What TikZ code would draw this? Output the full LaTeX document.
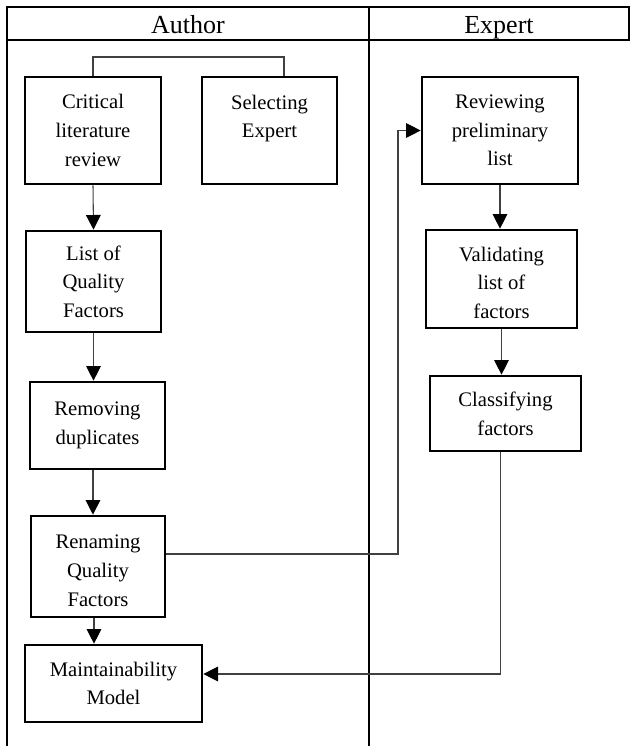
\documentclass[tikz,border=0pt]{standalone}
\usepackage{fontspec}
\setmainfont{Liberation Serif}
\usetikzlibrary{positioning, arrows.meta}

\begin{document}
\begin{tikzpicture}[x=0.75pt, y=-0.75pt,
		proc/.style={draw, line width=2pt, align=center, inner sep=0pt, font=\fontsize{15.5}{21.5}\selectfont},
		lane/.style={anchor=base, font=\fontsize{19.5}{23}\selectfont},
		frame/.style={line width=1.3pt},
		link/.style={draw=black!75, line width=0.8pt},
		flow/.style={link, -{Triangle[length=11pt, width=11pt, color=black]}}]
		\useasboundingbox (0,0) rectangle (630,746);
		
		\draw[frame] (7,746) -- (7,7) -- (629,7) -- (629,40) -- (7,40);
		\draw[frame] (369,7) -- (369,746);
		\node[lane] (author) at (188,33) {Author};
		\node[lane] (expert) at (499,33) {Expert};
		
		\node[proc, minimum width=102pt, minimum height=80.25pt] (crit) at (93,130.5) {Critical\\literature\\review};
		\node[proc, minimum width=101.25pt, minimum height=80.25pt] (sel) at (269.5,130.5) {Selecting\\Expert\\\mbox{}};
		\node[proc, minimum width=101.25pt, minimum height=75.75pt] (list) at (93.5,281.5) {List of\\Quality\\Factors};
		\node[proc, minimum width=101.25pt, minimum height=65.25pt] (rem) at (97.5,425.5) {Removing\\duplicates};
		\node[proc, minimum width=100.5pt, minimum height=75.75pt] (ren) at (98,566.5) {\mbox{}\\[-5pt]Renaming\\Quality\\Factors};
		\node[proc, minimum width=132.75pt, minimum height=57.75pt] (maint) at (113.5,683.5) {Maintainability\\Model};
		
		\node[proc, minimum width=117pt, minimum height=80.25pt] (rev) at (500,130.5) {Reviewing\\preliminary\\list};
		\node[proc, minimum width=113.25pt, minimum height=73.5pt] (val) at (501.5,279) {\mbox{}\\[-5pt]Validating\\list of\\factors};
		\node[proc, minimum width=113.25pt, minimum height=56.25pt] (cls) at (505.5,413.5) {Classifying\\factors};
		
		\coordinate (brk) at (284,57);
		\coordinate (turnA) at (398,554);
		\coordinate (turnB) at (500.5,674);
		
		\draw[link] (crit.north) |- (brk) -- (brk |- sel.north);
		\draw[flow] (crit.south) -- (list.north);
		\draw[flow] (list.south) -- (list.south |- rem.north);
		\draw[flow] ([xshift=-3.4pt]rem.south) -- ([xshift=-3.4pt]rem.south |- ren.north);
		\draw[flow] ([xshift=-3pt]ren.south) -- ([xshift=-3pt]ren.south |- maint.north);
		\draw[flow] (rev.south) -- (rev.south |- val.north);
		\draw[flow] (val.south) -- (val.south |- cls.north);
		\draw[flow] (ren.east |- turnA) -- (turnA) |- (rev.west);
		\draw[flow] (turnB |- cls.south) -- (turnB) -- (turnB -| maint.east);
		
\end{tikzpicture}
\end{document}
